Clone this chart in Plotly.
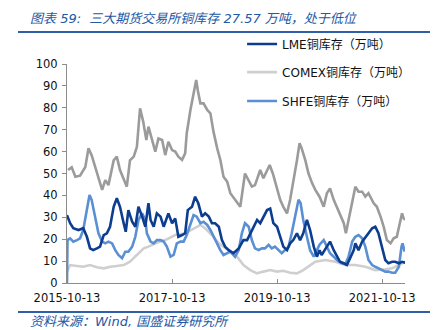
import datetime as dt
import plotly.graph_objects as go

# ---------------- data (decimal years, 万吨) ----------------
total_t = [2015.80, 2015.87, 2015.94, 2016.03, 2016.13, 2016.19, 2016.25, 2016.32, 2016.38, 2016.45,
           2016.51, 2016.57, 2016.67, 2016.73, 2016.79, 2016.86, 2016.92, 2016.98, 2017.05, 2017.11,
           2017.17, 2017.23, 2017.29, 2017.33, 2017.40, 2017.46, 2017.52, 2017.59, 2017.65, 2017.71,
           2017.78, 2017.84, 2017.90, 2017.97, 2018.03, 2018.06, 2018.13, 2018.19, 2018.24, 2018.27,
           2018.32, 2018.38, 2018.45, 2018.51, 2018.57, 2018.64, 2018.70, 2018.76, 2018.83, 2018.89,
           2018.98, 2019.08, 2019.17, 2019.24, 2019.30, 2019.36, 2019.46, 2019.52, 2019.59, 2019.64,
           2019.70, 2019.78, 2019.84, 2019.90, 2019.97, 2020.03, 2020.09, 2020.16, 2020.21, 2020.25,
           2020.32, 2020.38, 2020.45, 2020.51, 2020.59, 2020.67, 2020.73, 2020.79, 2020.86, 2020.92,
           2020.98, 2021.05, 2021.09, 2021.14, 2021.21, 2021.27, 2021.33, 2021.40, 2021.46, 2021.52,
           2021.62, 2021.68, 2021.75, 2021.81, 2021.87, 2021.94, 2022.00, 2022.06, 2022.11, 2022.16,
           2022.19, 2022.22]
total_v = [51.6, 52.8, 48.5, 49.0, 53.0, 61.5, 58.4, 53.0, 47.8, 42.5,
           47.0, 44.7, 56.0, 57.7, 51.6, 47.8, 44.0, 56.0, 57.7, 62.2,
           79.8, 73.7, 65.3, 71.4, 65.3, 60.0, 66.0, 65.3, 58.4, 64.5,
           60.7, 60.0, 57.7, 56.2, 59.2, 68.4, 79.0, 86.6, 92.7, 88.0,
           82.0, 82.0, 79.0, 77.5, 69.0, 61.5, 56.2, 48.5, 46.3, 41.0,
           38.0, 34.8, 50.0, 47.0, 44.0, 44.7, 51.6, 47.8, 51.6, 53.9,
           50.0, 42.5, 38.0, 34.8, 31.8, 38.0, 45.5, 56.0, 63.8, 61.5,
           56.0, 50.0, 45.5, 42.5, 39.4, 34.8, 41.0, 43.2, 38.0, 34.8,
           31.8, 27.3, 22.7, 28.8, 38.0, 44.0, 41.7, 41.7, 39.4, 41.0,
           36.4, 34.8, 30.3, 25.7, 19.6, 18.1, 20.4, 21.1, 26.5, 31.8,
           29.5, 28.8]

lme_t = [2015.78, 2015.84, 2015.90, 2016.00, 2016.09, 2016.16, 2016.22, 2016.28, 2016.35, 2016.41,
         2016.48, 2016.54, 2016.60, 2016.67, 2016.73, 2016.79, 2016.86, 2016.90, 2016.95, 2017.02,
         2017.08, 2017.14, 2017.21, 2017.27, 2017.33, 2017.37, 2017.43, 2017.49, 2017.56, 2017.62,
         2017.71, 2017.78, 2017.84, 2017.90, 2017.97, 2018.03, 2018.08, 2018.16, 2018.22, 2018.28,
         2018.35, 2018.41, 2018.48, 2018.54, 2018.60, 2018.67, 2018.73, 2018.79, 2018.86, 2018.95,
         2019.05, 2019.14, 2019.21, 2019.27, 2019.33, 2019.40, 2019.46, 2019.52, 2019.59, 2019.65,
         2019.71, 2019.78, 2019.84, 2019.90, 2019.97, 2020.03, 2020.09, 2020.16, 2020.22, 2020.28,
         2020.35, 2020.41, 2020.48, 2020.54, 2020.59, 2020.63, 2020.73, 2020.79, 2020.86, 2020.92,
         2020.98, 2021.05, 2021.11, 2021.17, 2021.24, 2021.27, 2021.33, 2021.40, 2021.46, 2021.52,
         2021.59, 2021.65, 2021.71, 2021.78, 2021.84, 2021.90, 2021.97, 2022.03, 2022.10, 2022.16,
         2022.22]
lme_v = [31.0, 27.3, 25.0, 24.2, 25.0, 21.1, 15.8, 15.0, 15.8, 16.6,
         21.9, 22.7, 25.7, 34.8, 38.7, 34.8, 27.3, 23.4, 33.3, 28.0,
         25.7, 34.8, 30.3, 25.7, 36.4, 28.8, 25.7, 31.8, 30.3, 25.7,
         31.8, 27.3, 29.5, 21.1, 21.9, 22.7, 33.3, 34.8, 39.4, 36.4,
         30.3, 31.8, 30.3, 27.3, 27.3, 25.7, 19.6, 16.6, 15.0, 13.6,
         15.8, 19.6, 19.6, 22.7, 25.7, 28.8, 27.3, 30.3, 33.3, 34.0,
         27.3, 25.7, 21.1, 16.6, 15.0, 18.1, 19.6, 22.7, 19.6, 22.7,
         28.8, 24.2, 16.6, 12.0, 15.0, 12.8, 16.6, 18.9, 15.0, 12.0,
         9.7, 9.0, 8.2, 11.3, 15.0, 18.1, 15.0, 18.9, 21.1, 22.7,
         25.0, 25.7, 22.7, 16.6, 10.5, 9.0, 9.7, 9.7, 9.0, 9.7,
         9.3]

comex_t = [2015.78, 2015.84, 2015.97, 2016.09, 2016.22, 2016.35, 2016.48, 2016.60, 2016.73, 2016.86,
           2016.98, 2017.11, 2017.24, 2017.33, 2017.46, 2017.65, 2017.84, 2018.03, 2018.22, 2018.32,
           2018.41, 2018.54, 2018.67, 2018.79, 2018.89, 2019.02, 2019.14, 2019.27, 2019.40, 2019.52,
           2019.65, 2019.78, 2019.90, 2020.03, 2020.16, 2020.28, 2020.41, 2020.51, 2020.70, 2020.89,
           2021.08, 2021.27, 2021.46, 2021.65, 2021.84, 2021.97, 2022.10, 2022.22]
comex_v = [5.2, 8.2, 7.8, 7.4, 8.2, 7.2, 6.7, 7.4, 7.8, 8.2,
           9.7, 12.8, 15.8, 16.6, 18.1, 19.6, 21.9, 22.7, 25.0, 26.5,
           25.0, 21.9, 18.1, 15.8, 14.3, 12.0, 8.2, 5.9, 4.4, 5.2,
           5.9, 5.2, 5.6, 4.7, 4.4, 5.9, 8.2, 9.7, 10.5, 9.7,
           8.2, 8.2, 7.4, 5.9, 6.3, 6.7, 8.2, 9.7]

shfe_t = [2015.78, 2015.79, 2015.84, 2015.90, 2015.97, 2016.03, 2016.09, 2016.16, 2016.21, 2016.25,
          2016.32, 2016.38, 2016.45, 2016.51, 2016.57, 2016.64, 2016.70, 2016.76, 2016.83, 2016.89,
          2016.95, 2017.02, 2017.08, 2017.14, 2017.21, 2017.27, 2017.30, 2017.37, 2017.43, 2017.49,
          2017.56, 2017.62, 2017.68, 2017.75, 2017.81, 2017.87, 2017.94, 2018.00, 2018.06, 2018.13,
          2018.19, 2018.25, 2018.32, 2018.38, 2018.45, 2018.51, 2018.57, 2018.64, 2018.70, 2018.76,
          2018.83, 2018.89, 2018.98, 2019.05, 2019.11, 2019.17, 2019.24, 2019.30, 2019.36, 2019.43,
          2019.49, 2019.55, 2019.62, 2019.68, 2019.74, 2019.81, 2019.87, 2019.93, 2020.00, 2020.06,
          2020.12, 2020.19, 2020.23, 2020.28, 2020.35, 2020.41, 2020.48, 2020.54, 2020.59, 2020.67,
          2020.73, 2020.79, 2020.86, 2020.92, 2021.01, 2021.08, 2021.14, 2021.21, 2021.27, 2021.33,
          2021.40, 2021.46, 2021.52, 2021.59, 2021.65, 2021.71, 2021.78, 2021.84, 2021.90, 2021.97,
          2022.03, 2022.10, 2022.15, 2022.17, 2022.21]
shfe_v = [0.0, 19.6, 20.4, 18.9, 19.6, 20.4, 24.2, 33.3, 40.2, 38.0,
          30.3, 22.7, 18.9, 18.1, 18.9, 18.1, 15.0, 12.8, 11.3, 14.3,
          14.3, 16.6, 21.1, 28.8, 31.8, 28.8, 22.7, 18.9, 18.1, 19.6,
          19.6, 18.9, 16.6, 12.0, 12.8, 18.1, 18.9, 18.9, 21.9, 27.3,
          31.0, 30.3, 27.3, 28.0, 26.5, 24.2, 21.1, 18.1, 15.0, 12.8,
          13.6, 14.3, 12.0, 15.0, 22.7, 27.3, 25.7, 19.6, 15.8, 15.0,
          15.8, 15.8, 17.4, 15.8, 16.6, 15.0, 13.6, 15.0, 16.6, 22.7,
          30.3, 38.0, 36.4, 28.8, 21.1, 15.0, 12.0, 15.0, 17.5, 19.6,
          16.6, 13.6, 12.0, 10.5, 9.0, 8.7, 12.0, 18.9, 21.1, 21.9,
          20.4, 16.6, 10.5, 8.2, 7.4, 6.7, 5.9, 5.2, 5.2, 4.7,
          4.7, 7.4, 16.6, 18.1, 14.3]

tick_dates = ["2015-10-13", "2017-10-13", "2019-10-13", "2021-10-13"]
x_start, x_end = "2015-10-13", "2022-03-21"

names = {"lme": "LME铜库存（万吨）", "comex": "COMEX铜库存（万吨）", "shfe": "SHFE铜库存（万吨）"}
title_text = "图表 59:  三大期货交易所铜库存 27.57 万吨，处于低位"
source_text = "资料来源：Wind, 国盛证券研究所"


def to_dates(years):
    out = []
    for y in years:
        yr = int(y)
        out.append(dt.datetime(yr, 1, 1) + dt.timedelta(days=(y - yr) * 365.25))
    return out


FONT = "DejaVu Sans, Noto Sans CJK SC, sans-serif"
BLUE_TXT = "#2358a6"

fig = go.Figure()
fig.add_trace(go.Scatter(x=to_dates(total_t), y=total_v, mode="lines", showlegend=False,
                         line=dict(color="#9b9b9b", width=2.6), hoverinfo="skip"))
fig.add_trace(go.Scatter(x=to_dates(comex_t), y=comex_v, mode="lines", name=names["comex"],
                         legend="legend2", line=dict(color="#cfcfcf", width=2.6)))
fig.add_trace(go.Scatter(x=to_dates(shfe_t), y=shfe_v, mode="lines", name=names["shfe"],
                         legend="legend3", line=dict(color="#5a8fd4", width=2.6)))
fig.add_trace(go.Scatter(x=to_dates(lme_t), y=lme_v, mode="lines", name=names["lme"],
                         legend="legend", line=dict(color="#0c3d8f", width=2.6)))

leg_common = dict(x=0.518, xanchor="left", yanchor="middle", bgcolor="rgba(0,0,0,0)",
                  font=dict(family="DejaVu Sans, Noto Sans CJK SC", size=12, color="#111"),
                  itemwidth=30, borderwidth=0)

fig.update_layout(
    width=443, height=330,
    margin=dict(l=67, r=38, t=64, b=47),
    paper_bgcolor="white", plot_bgcolor="white",
    font=dict(family=FONT, size=12, color="#111"),
    legend=dict(y=1.091, **leg_common),
    legend2=dict(y=0.963, **leg_common),
    legend3=dict(y=0.831, **leg_common),
    xaxis=dict(type="date", range=[x_start, x_end], tickvals=tick_dates, ticktext=tick_dates,
               showgrid=False, zeroline=False, showline=True, linecolor="#8c8c8c", linewidth=1,
               ticks="inside", ticklen=4, tickcolor="#8c8c8c", ticklabelstandoff=4,
               tickfont=dict(family="DejaVu Sans", size=11.5, color="#111")),
    yaxis=dict(range=[0, 100], dtick=10, showgrid=False, zeroline=False, showline=True,
               linecolor="#8c8c8c", linewidth=1, ticks="outside", ticklen=4, tickcolor="#8c8c8c",
               ticklabelstandoff=2,
               tickfont=dict(family="DejaVu Sans", size=11.5, color="#111")),
)

fig.add_annotation(x=-0.115, y=1.21, xref="paper", yref="paper", xanchor="left", yanchor="middle",
                   text="<i>" + title_text + "</i>", showarrow=False,
                   font=dict(family="DejaVu Sans, Noto Sans CJK SC", size=13, color=BLUE_TXT))
fig.add_annotation(x=-0.115, y=-0.178, xref="paper", yref="paper", xanchor="left", yanchor="middle",
                   text="<i>" + source_text + "</i>", showarrow=False,
                   font=dict(family="DejaVu Sans, Noto Sans CJK SC", size=13, color=BLUE_TXT))
fig.add_shape(type="line", xref="paper", yref="paper", x0=-0.145, x1=1.074, y0=1.146, y1=1.146,
              line=dict(color="#2e5fa8", width=2))
fig.add_shape(type="line", xref="paper", yref="paper", x0=-0.145, x1=1.074, y0=-0.132, y1=-0.132,
              line=dict(color="#2e5fa8", width=2))

fig.write_html("out.html")
